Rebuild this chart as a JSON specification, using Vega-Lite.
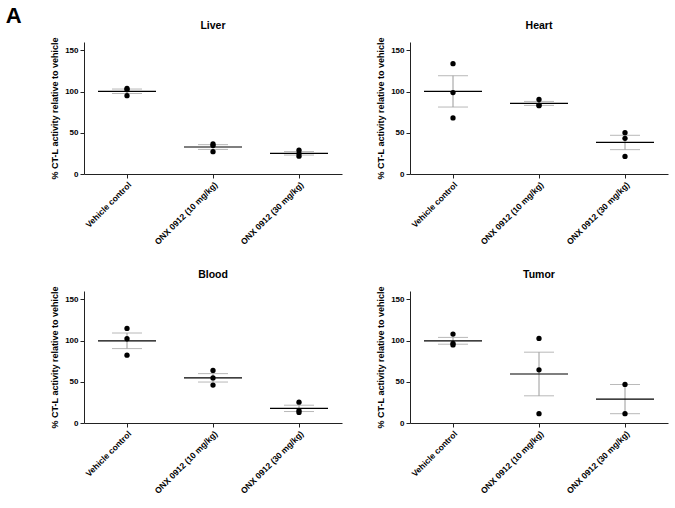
{
  "$schema": "https://vega.github.io/schema/vega-lite/v6.json",
  "padding": {"left": 5, "top": 5, "right": 5, "bottom": 5},
  "background": "white",
  "title": {"text": "A", "anchor": "start", "frame": "bounds", "fontSize": 22, "font": "Liberation Sans", "fontWeight": "bold", "color": "black", "dx": -45, "offset": -7},
  "data": {"values": [
    {"organ": "Liver", "group": "Vehicle control", "value": 103.7},
    {"organ": "Liver", "group": "Vehicle control", "value": 102.2},
    {"organ": "Liver", "group": "Vehicle control", "value": 94.9},
    {"organ": "Liver", "group": "ONX 0912 (10 mg/kg)", "value": 36.5},
    {"organ": "Liver", "group": "ONX 0912 (10 mg/kg)", "value": 34.6},
    {"organ": "Liver", "group": "ONX 0912 (10 mg/kg)", "value": 27.0},
    {"organ": "Liver", "group": "ONX 0912 (30 mg/kg)", "value": 28.9},
    {"organ": "Liver", "group": "ONX 0912 (30 mg/kg)", "value": 21.6},
    {"organ": "Liver", "group": "ONX 0912 (30 mg/kg)", "value": 24.7},
    {"organ": "Heart", "group": "Vehicle control", "value": 133.7},
    {"organ": "Heart", "group": "Vehicle control", "value": 98.7},
    {"organ": "Heart", "group": "Vehicle control", "value": 68.0},
    {"organ": "Heart", "group": "ONX 0912 (10 mg/kg)", "value": 90.4},
    {"organ": "Heart", "group": "ONX 0912 (10 mg/kg)", "value": 82.8},
    {"organ": "Heart", "group": "ONX 0912 (10 mg/kg)", "value": 83.5},
    {"organ": "Heart", "group": "ONX 0912 (30 mg/kg)", "value": 50.1},
    {"organ": "Heart", "group": "ONX 0912 (30 mg/kg)", "value": 43.3},
    {"organ": "Heart", "group": "ONX 0912 (30 mg/kg)", "value": 21.3},
    {"organ": "Blood", "group": "Vehicle control", "value": 114.6},
    {"organ": "Blood", "group": "Vehicle control", "value": 102.1},
    {"organ": "Blood", "group": "Vehicle control", "value": 82.2},
    {"organ": "Blood", "group": "ONX 0912 (10 mg/kg)", "value": 63.7},
    {"organ": "Blood", "group": "ONX 0912 (10 mg/kg)", "value": 54.6},
    {"organ": "Blood", "group": "ONX 0912 (10 mg/kg)", "value": 46.0},
    {"organ": "Blood", "group": "ONX 0912 (30 mg/kg)", "value": 25.3},
    {"organ": "Blood", "group": "ONX 0912 (30 mg/kg)", "value": 12.8},
    {"organ": "Blood", "group": "ONX 0912 (30 mg/kg)", "value": 15.1},
    {"organ": "Tumor", "group": "Vehicle control", "value": 107.8},
    {"organ": "Tumor", "group": "Vehicle control", "value": 94.6},
    {"organ": "Tumor", "group": "Vehicle control", "value": 96.5},
    {"organ": "Tumor", "group": "ONX 0912 (10 mg/kg)", "value": 102.5},
    {"organ": "Tumor", "group": "ONX 0912 (10 mg/kg)", "value": 64.4},
    {"organ": "Tumor", "group": "ONX 0912 (10 mg/kg)", "value": 11.3},
    {"organ": "Tumor", "group": "ONX 0912 (30 mg/kg)", "value": 46.7},
    {"organ": "Tumor", "group": "ONX 0912 (30 mg/kg)", "value": 11.3}
  ]},
  "facet": {
    "field": "organ", "type": "nominal",
    "sort": ["Liver", "Heart", "Blood", "Tumor"],
    "header": {"title": null, "labelFontSize": 10.5, "labelFont": "Liberation Sans", "labelFontWeight": "bold", "labelColor": "black", "labelPadding": 5}
  },
  "columns": 2,
  "spacing": {"row": 24, "column": 34},
  "resolve": {"axis": {"x": "independent", "y": "independent"}},
  "spec": {
    "width": 258,
    "height": 132,
    "encoding": {
      "x": {
        "field": "group", "type": "nominal",
        "sort": ["Vehicle control", "ONX 0912 (10 mg/kg)", "ONX 0912 (30 mg/kg)"],
        "scale": {"paddingInner": 0, "paddingOuter": 0},
        "axis": {"title": null, "labelAngle": -45, "labelFontSize": 8.5, "labelFontWeight": "bold", "labelLimit": 0, "tickSize": 4, "labelPadding": 2}
      }
    },
    "layer": [
      {
        "mark": {"type": "errorbar", "extent": "stderr", "color": "#9a9a9a", "thickness": 1, "size": 30, "ticks": true},
        "encoding": {
          "y": {"field": "value", "type": "quantitative", "scale": {"domain": [0, 150]},
                "title": "% CT-L activity relative to vehicle",
                "axis": {"values": [0, 50, 100, 150], "labelFontSize": 8, "labelFontWeight": "bold", "titleFontSize": 9, "titleFontWeight": "bold", "titlePadding": 5, "tickSize": 4, "labelPadding": 2}}
        }
      },
      {
        "mark": {"type": "tick", "size": 58, "thickness": 1.2, "color": "black"},
        "encoding": {
          "y": {"aggregate": "mean", "field": "value", "type": "quantitative", "title": "% CT-L activity relative to vehicle"}
        }
      },
      {
        "mark": {"type": "circle", "size": 28, "color": "black", "opacity": 1},
        "encoding": {
          "y": {"field": "value", "type": "quantitative", "title": "% CT-L activity relative to vehicle"}
        }
      }
    ]
  },
  "config": {
    "view": {"stroke": null},
    "axis": {"grid": false, "domainColor": "#222", "tickColor": "#222", "labelColor": "black", "titleColor": "black", "domainWidth": 1, "tickWidth": 1, "labelFont": "Liberation Sans", "titleFont": "Liberation Sans"}
  }
}
